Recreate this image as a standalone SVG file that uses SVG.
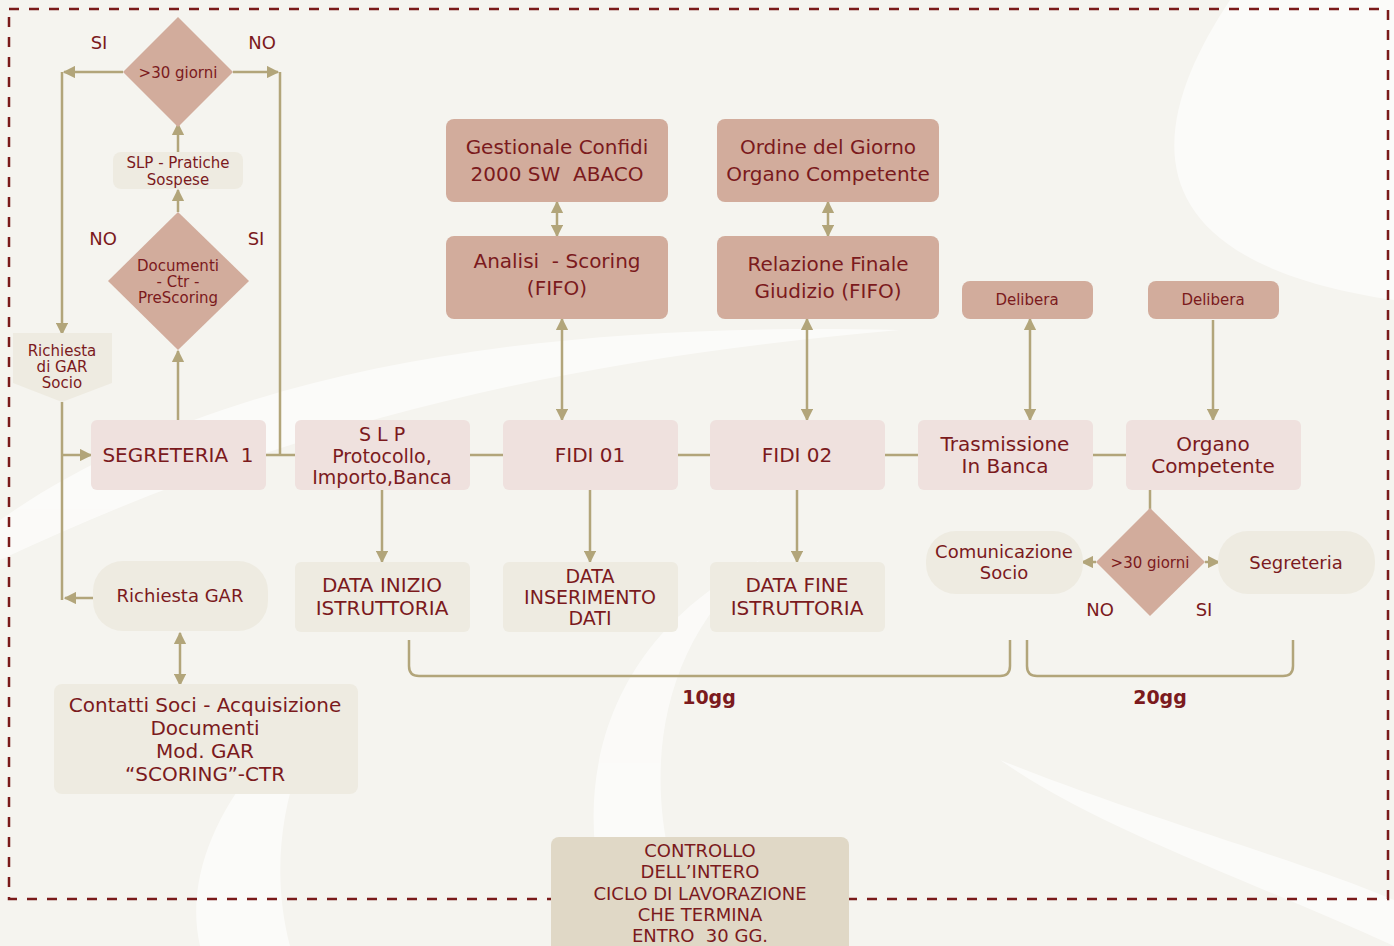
<svg xmlns="http://www.w3.org/2000/svg" width="1394" height="946" viewBox="0 0 1394 946">
<style>
text{font-family:"DejaVu Sans","Verdana",sans-serif;fill:#7b1a1d;text-anchor:middle;white-space:pre}
.dk{fill:#d2ac9c}
.pk{fill:#efe1de}
.cr{fill:#eeebe1}
.ct{fill:#e0d8c6}
.c{stroke:#b2a57a;stroke-width:2.5;fill:none}
.f15{font-size:15px}
.f18{font-size:18px}
.f20{font-size:20px}
.f19{font-size:19px}
.lbl{font-size:18px}
</style>
<defs>
<marker id="ah" viewBox="0 0 10 10" refX="9" refY="5" markerWidth="5" markerHeight="5" orient="auto-start-reverse" markerUnits="strokeWidth">
<path d="M0,0 L10,5 L0,10 z" fill="#b2a57a"/>
</marker>
</defs>
<rect width="1394" height="946" fill="#f5f4ef"/>
<g id="bg" fill="#ffffff" opacity="0.6">
<path d="M1230,0 C1150,120 1120,260 1394,300 L1394,0 Z"/>
<path d="M620,946 C560,800 600,640 760,560 C640,660 640,820 700,946 Z"/>
<path d="M200,946 C180,860 240,760 330,700 C280,780 270,870 290,946 Z"/>
<path d="M0,520 C200,380 500,320 900,330 C560,360 300,420 0,560 Z"/>
<path d="M1000,760 C1150,820 1300,860 1394,900 L1394,946 C1250,880 1100,830 1000,760 Z"/>
</g>
<rect x="9" y="9" width="1379" height="890" fill="none" stroke="#7a1a1a" stroke-width="2.5" stroke-dasharray="10 10"/>

<g id="connectors">
<path class="c" d="M266,455 H295 M470,455 H503 M678,455 H710 M885,455 H918 M1093,455 H1126"/>
<path class="c" d="M178,420 V351" marker-end="url(#ah)"/>
<path class="c" d="M178,212 V190" marker-end="url(#ah)"/>
<path class="c" d="M178,152 V124" marker-end="url(#ah)"/>
<path class="c" d="M123,72 H64" marker-end="url(#ah)"/>
<path class="c" d="M62,72 V334" marker-end="url(#ah)"/>
<path class="c" d="M233,72 H278" marker-end="url(#ah)"/>
<path class="c" d="M280,72 V455"/>
<path class="c" d="M62,402 V600"/>
<path class="c" d="M62,455 H91" marker-end="url(#ah)"/>
<path class="c" d="M93,598 H65" marker-end="url(#ah)"/>
<path class="c" d="M180,633 V685" marker-start="url(#ah)" marker-end="url(#ah)"/>
<path class="c" d="M382,490 V562" marker-end="url(#ah)"/>
<path class="c" d="M590,490 V562" marker-end="url(#ah)"/>
<path class="c" d="M797,490 V562" marker-end="url(#ah)"/>
<path class="c" d="M557,202 V236" marker-start="url(#ah)" marker-end="url(#ah)"/>
<path class="c" d="M828,202 V236" marker-start="url(#ah)" marker-end="url(#ah)"/>
<path class="c" d="M562,319 V420" marker-start="url(#ah)" marker-end="url(#ah)"/>
<path class="c" d="M807,319 V420" marker-start="url(#ah)" marker-end="url(#ah)"/>
<path class="c" d="M1030,319 V420" marker-start="url(#ah)" marker-end="url(#ah)"/>
<path class="c" d="M1213,320 V420" marker-end="url(#ah)"/>
<path class="c" d="M1150,490 V510"/>
<path class="c" d="M1096,562 H1082" marker-end="url(#ah)"/>
<path class="c" d="M1205,562 H1219" marker-end="url(#ah)"/>
<path class="c" d="M409,640 V666 Q409,676 419,676 H1000 Q1010,676 1010,666 V640"/>
<path class="c" d="M1027,640 V666 Q1027,676 1037,676 H1283 Q1293,676 1293,666 V640"/>
</g>

<g id="d1"><path class="dk" d="M178,17 L233,72 L178,127 L123,72 Z"/><text class="f15" x="178" y="78">&gt;30 giorni</text></g>
<g id="slp-sospese"><rect class="cr" x="113" y="152" width="130" height="37" rx="8"/><text class="f15" x="178" y="168">SLP - Pratiche</text><text class="f15" x="178" y="185">Sospese</text></g>
<g id="d2"><path class="dk" d="M178,212 L249,281 L178,350 L108,281 Z"/><text class="f15" x="178" y="271">Documenti</text><text class="f15" x="178" y="287">- Ctr -</text><text class="f15" x="178" y="303">PreScoring</text></g>
<g id="richiesta-socio"><path class="cr" d="M13,333 H112 V383 L62,402 L13,383 Z"/><text class="f15" x="62" y="356">Richiesta</text><text class="f15" x="62" y="372">di GAR</text><text class="f15" x="62" y="388">Socio</text></g>

<g id="segreteria1"><rect class="pk" x="91" y="420" width="175" height="70" rx="6"/><text class="f20" x="178" y="462">SEGRETERIA  1</text></g>
<g id="slp"><rect class="pk" x="295" y="420" width="175" height="70" rx="6"/><text class="f19" x="382" y="441">S L P</text><text class="f19" x="382" y="463">Protocollo,</text><text class="f19" x="382" y="484">Importo,Banca</text></g>
<g id="fidi01"><rect class="pk" x="503" y="420" width="175" height="70" rx="6"/><text class="f20" x="590" y="462">FIDI 01</text></g>
<g id="fidi02"><rect class="pk" x="710" y="420" width="175" height="70" rx="6"/><text class="f20" x="797" y="462">FIDI 02</text></g>
<g id="trasmissione"><rect class="pk" x="918" y="420" width="175" height="70" rx="6"/><text class="f20" x="1005" y="451">Trasmissione</text><text class="f20" x="1005" y="473">In Banca</text></g>
<g id="organo"><rect class="pk" x="1126" y="420" width="175" height="70" rx="6"/><text class="f20" x="1213" y="451">Organo</text><text class="f20" x="1213" y="473">Competente</text></g>

<g id="gestionale"><rect class="dk" x="446" y="119" width="222" height="83" rx="8"/><text class="f20" x="557" y="154">Gestionale Confidi</text><text class="f20" x="557" y="181">2000 SW  ABACO</text></g>
<g id="analisi"><rect class="dk" x="446" y="236" width="222" height="83" rx="8"/><text class="f20" x="557" y="268">Analisi  - Scoring</text><text class="f20" x="557" y="295">(FIFO)</text></g>
<g id="ordine"><rect class="dk" x="717" y="119" width="222" height="83" rx="8"/><text class="f20" x="828" y="154">Ordine del Giorno</text><text class="f20" x="828" y="181">Organo Competente</text></g>
<g id="relazione"><rect class="dk" x="717" y="236" width="222" height="83" rx="8"/><text class="f20" x="828" y="271">Relazione Finale</text><text class="f20" x="828" y="298">Giudizio (FIFO)</text></g>
<g id="delibera1"><rect class="dk" x="962" y="281" width="131" height="38" rx="8"/><text class="f15" x="1027" y="305">Delibera</text></g>
<g id="delibera2"><rect class="dk" x="1148" y="281" width="131" height="38" rx="8"/><text class="f15" x="1213" y="305">Delibera</text></g>

<g id="data-inizio"><rect class="cr" x="295" y="562" width="175" height="70" rx="6"/><text class="f20" x="382" y="592">DATA INIZIO</text><text class="f20" x="382" y="615">ISTRUTTORIA</text></g>
<g id="data-inserimento"><rect class="cr" x="503" y="562" width="175" height="70" rx="6"/><text class="f19" x="590" y="583">DATA</text><text class="f19" x="590" y="604">INSERIMENTO</text><text class="f19" x="590" y="625">DATI</text></g>
<g id="data-fine"><rect class="cr" x="710" y="562" width="175" height="70" rx="6"/><text class="f20" x="797" y="592">DATA FINE</text><text class="f20" x="797" y="615">ISTRUTTORIA</text></g>

<g id="richiesta-gar"><rect class="cr" x="93" y="561" width="175" height="70" rx="30"/><text class="f18" x="180" y="602">Richiesta GAR</text></g>
<g id="contatti"><rect class="cr" x="54" y="684" width="304" height="110" rx="8"/><text font-size="20" x="205" y="712">Contatti Soci - Acquisizione</text><text font-size="20" x="205" y="735">Documenti</text><text font-size="20" x="205" y="758">Mod. GAR</text><text font-size="20" x="205" y="781">“SCORING”-CTR</text></g>

<g id="comunicazione"><rect class="cr" x="926" y="531" width="157" height="63" rx="30"/><text class="f18" x="1004" y="558">Comunicazione</text><text class="f18" x="1004" y="579">Socio</text></g>
<g id="d3"><path class="dk" d="M1150,508 L1205,562 L1150,616 L1096,562 Z"/><text class="f15" x="1150" y="568">&gt;30 giorni</text></g>
<g id="segreteria"><rect class="cr" x="1218" y="531" width="157" height="63" rx="30"/><text class="f18" x="1296" y="569">Segreteria</text></g>

<g id="labels">
<text class="lbl" x="99" y="49">SI</text>
<text class="lbl" x="262" y="49">NO</text>
<text class="lbl" x="103" y="245">NO</text>
<text class="lbl" x="256" y="245">SI</text>
<text class="lbl" x="1100" y="616">NO</text>
<text class="lbl" x="1204" y="616">SI</text>
<text x="709" y="704" font-size="19" font-weight="bold">10gg</text>
<text x="1160" y="704" font-size="19" font-weight="bold">20gg</text>
</g>

<g id="controllo"><rect class="ct" x="551" y="837" width="298" height="120" rx="8"/><text class="f18" x="700" y="857">CONTROLLO</text><text class="f18" x="700" y="878">DELL’INTERO</text><text class="f18" x="700" y="900">CICLO DI LAVORAZIONE</text><text class="f18" x="700" y="921">CHE TERMINA</text><text class="f18" x="700" y="942">ENTRO  30 GG.</text></g>
</svg>
